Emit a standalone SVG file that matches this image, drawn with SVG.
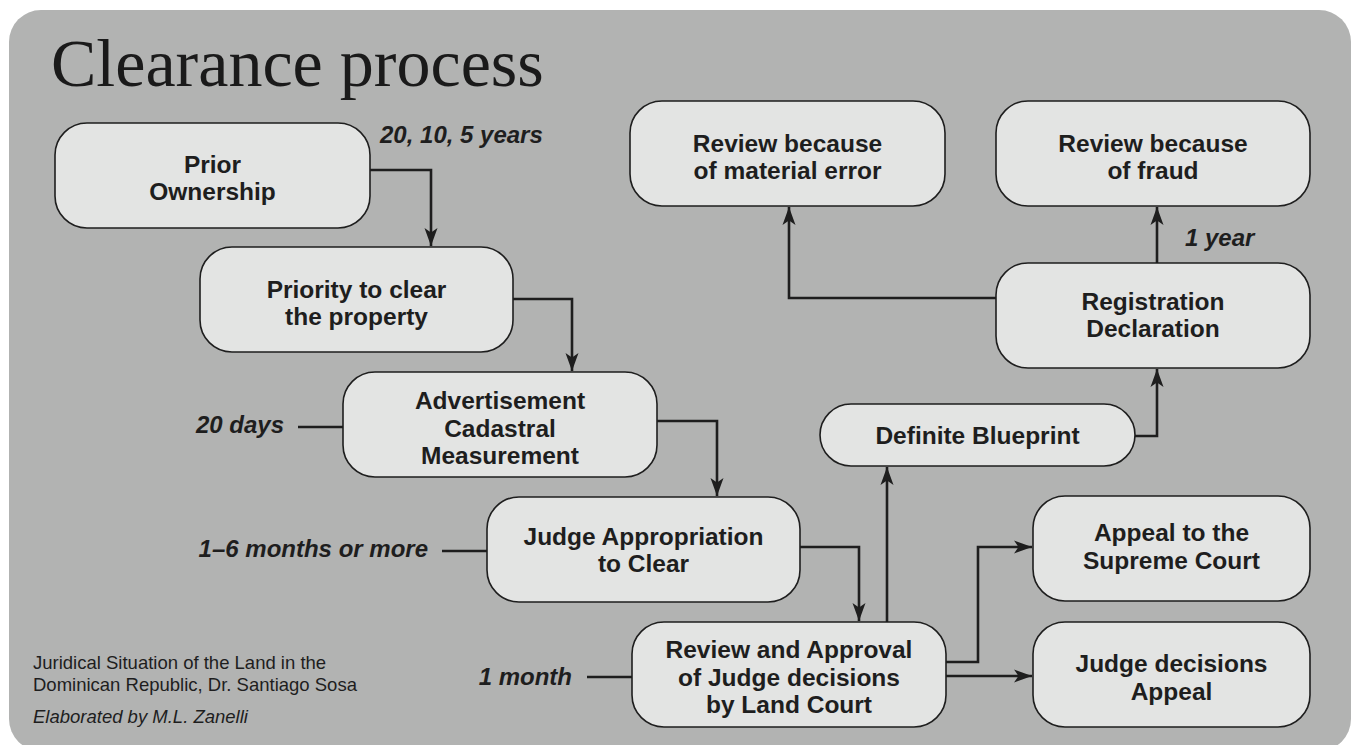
<svg xmlns="http://www.w3.org/2000/svg" width="1353" height="745" viewBox="0 0 1353 745">
<defs>
<style>
.node rect{fill:#e3e4e3;stroke:#1e1e1e;stroke-width:1.6}
.node text{font-family:"Liberation Sans",Arial,sans-serif;font-weight:bold;font-size:24.5px;fill:#1e1e1e;text-anchor:middle}
.lbl{font-family:"Liberation Sans",Arial,sans-serif;font-weight:bold;font-style:italic;font-size:24px;fill:#1e1e1e}
.conn path{fill:none;stroke:#1e1e1e;stroke-width:2.6}
.foot{font-family:"Liberation Sans",Arial,sans-serif;font-size:18.5px;fill:#1e1e1e}
</style>
<marker id="ah" markerUnits="userSpaceOnUse" markerWidth="20" markerHeight="16" refX="18" refY="8" orient="auto">
<path d="M0,1.5 L18,8 L0,14.5 L4.5,8 z" fill="#1e1e1e"/>
</marker>
</defs>
<rect x="9" y="10" width="1342" height="741" rx="32" fill="#b2b3b2"/>
<text x="51" y="86" font-family="'Liberation Serif','Times New Roman',serif" font-size="68" fill="#1a1a1a">Clearance process</text>

<g class="conn">
<path d="M370,170 H431 V246" marker-end="url(#ah)"/>
<path d="M513,299 H572 V371" marker-end="url(#ah)"/>
<path d="M657,421 H717 V496" marker-end="url(#ah)"/>
<path d="M800,547 H859 V621" marker-end="url(#ah)"/>
<path d="M887,622 V467" marker-end="url(#ah)"/>
<path d="M1135,436 H1157 V369" marker-end="url(#ah)"/>
<path d="M1157,263 V207" marker-end="url(#ah)"/>
<path d="M996,298 H789 V207" marker-end="url(#ah)"/>
<path d="M946,662 H978 V547 H1032" marker-end="url(#ah)"/>
<path d="M946,676 H1032" marker-end="url(#ah)"/>
<path d="M298,427 H343"/>
<path d="M442,551 H487"/>
<path d="M587,677 H632"/>
</g>

<g id="prior" class="node"><rect x="55" y="123" width="315" height="105" rx="32"/><text x="212.5" y="173">Prior</text><text x="212.5" y="200">Ownership</text></g>
<g id="priority" class="node"><rect x="200" y="247" width="313" height="105" rx="32"/><text x="356.5" y="298">Priority to clear</text><text x="356.5" y="325">the property</text></g>
<g id="advert" class="node"><rect x="343" y="372" width="314" height="105" rx="32"/><text x="500" y="409">Advertisement</text><text x="500" y="437">Cadastral</text><text x="500" y="464">Measurement</text></g>
<g id="judgeapp" class="node"><rect x="487" y="497" width="313" height="105" rx="32"/><text x="643.5" y="545">Judge Appropriation</text><text x="643.5" y="572">to Clear</text></g>
<g id="review" class="node"><rect x="632" y="622" width="314" height="105" rx="32"/><text x="789" y="658">Review and Approval</text><text x="789" y="686">of Judge decisions</text><text x="789" y="713">by Land Court</text></g>
<g id="material" class="node"><rect x="630" y="101" width="315" height="105" rx="32"/><text x="787.5" y="152">Review because</text><text x="787.5" y="179">of material error</text></g>
<g id="fraud" class="node"><rect x="996" y="101" width="314" height="105" rx="32"/><text x="1153" y="152">Review because</text><text x="1153" y="179">of fraud</text></g>
<g id="registration" class="node"><rect x="996" y="263" width="314" height="105" rx="32"/><text x="1153" y="310">Registration</text><text x="1153" y="337">Declaration</text></g>
<g id="blueprint" class="node"><rect x="820" y="404" width="315" height="62" rx="31"/><text x="977.5" y="444">Definite Blueprint</text></g>
<g id="supreme" class="node"><rect x="1033" y="496" width="277" height="105" rx="32"/><text x="1171.5" y="541">Appeal to the</text><text x="1171.5" y="569">Supreme Court</text></g>
<g id="judgedec" class="node"><rect x="1033" y="622" width="277" height="105" rx="32"/><text x="1171.5" y="672">Judge decisions</text><text x="1171.5" y="700">Appeal</text></g>

<g id="labels">
<text class="lbl" x="380" y="143">20, 10, 5 years</text>
<text class="lbl" x="284" y="433" text-anchor="end">20 days</text>
<text class="lbl" x="428" y="557" text-anchor="end">1–6 months or more</text>
<text class="lbl" x="572" y="685" text-anchor="end">1 month</text>
<text class="lbl" x="1185" y="246">1 year</text>
</g>
<g id="footer">
<text class="foot" x="33" y="669">Juridical Situation of the Land in the</text>
<text class="foot" x="33" y="691">Dominican Republic, Dr. Santiago Sosa</text>
<text class="foot" x="33" y="723" font-style="italic">Elaborated by M.L. Zanelli</text>
</g>
</svg>
